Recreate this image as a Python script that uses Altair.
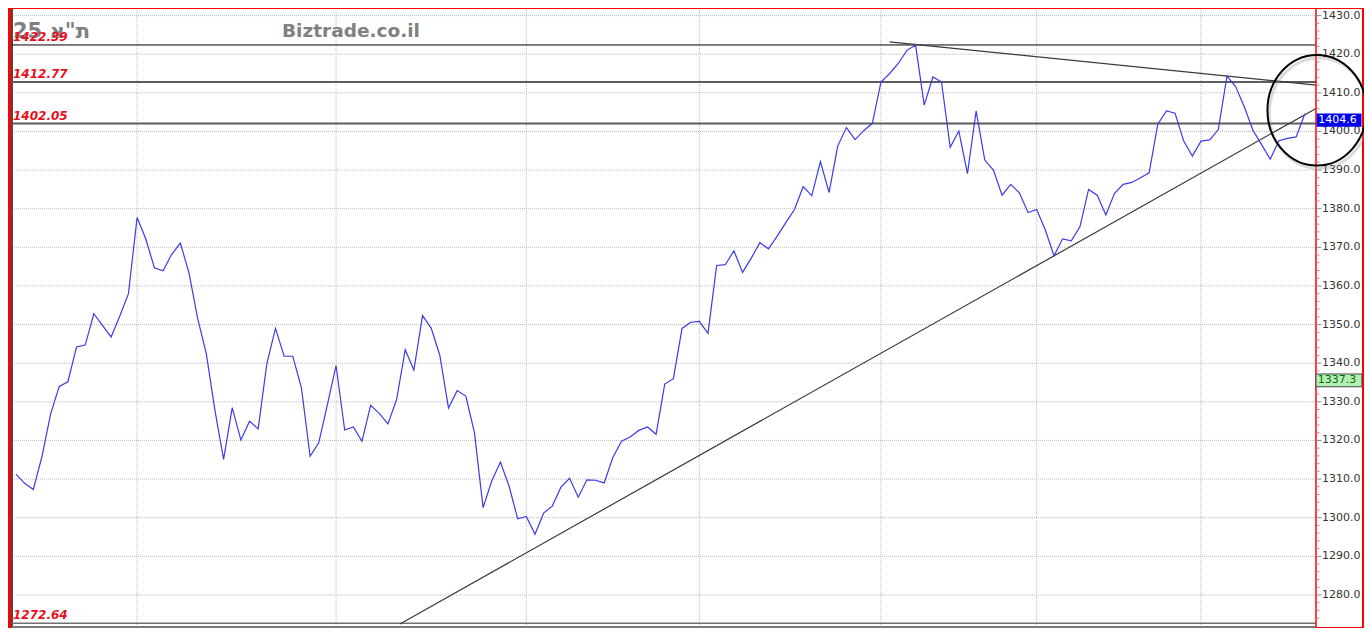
import altair as alt
import pandas as pd

# ---------------- data ----------------
prices = [
    1311.3, 1308.9, 1307.3, 1315.8, 1326.8, 1334.0, 1335.2, 1344.2, 1344.7, 1352.8,
    1349.8, 1346.8, 1352.2, 1358.0, 1377.7, 1372.2, 1364.7, 1363.9, 1368.2, 1371.1,
    1363.4, 1351.6, 1342.5, 1327.8, 1315.1, 1328.5, 1320.1, 1325.0, 1323.0, 1339.9,
    1349.0, 1341.8, 1341.8, 1333.6, 1315.9, 1319.4, 1329.3, 1339.4, 1322.7, 1323.5,
    1319.8, 1329.1, 1327.0, 1324.3, 1330.6, 1343.5, 1338.2, 1352.3, 1349.1, 1342.0,
    1328.4, 1332.9, 1331.5, 1322.0, 1302.6, 1309.5, 1314.4, 1308.2, 1299.7, 1300.3,
    1295.7, 1301.2, 1303.0, 1307.9, 1310.2, 1305.3, 1309.8, 1309.7, 1309.0, 1315.6,
    1319.8, 1320.9, 1322.6, 1323.5, 1321.6, 1334.6, 1336.0, 1349.0, 1350.6, 1350.8,
    1347.7, 1365.3, 1365.5, 1369.1, 1363.5, 1367.2, 1371.2, 1369.6, 1372.9, 1376.4,
    1379.8, 1385.7, 1383.4, 1392.2, 1384.2, 1396.2, 1401.0, 1397.9, 1400.2, 1402.1,
    1412.8, 1415.0, 1417.6, 1421.0, 1422.3, 1406.8, 1414.1, 1412.8, 1395.9, 1400.1,
    1389.1, 1405.3, 1392.6, 1390.0, 1383.5, 1386.3, 1384.1, 1379.0, 1379.8, 1374.5,
    1367.8, 1372.2, 1371.7, 1375.3, 1385.0, 1383.5, 1378.4, 1384.0, 1386.3, 1386.8,
    1388.0, 1389.3, 1401.9, 1405.3, 1404.7, 1397.5, 1393.6, 1397.5, 1397.8, 1400.5,
    1414.3, 1411.6, 1406.4, 1400.3, 1396.6, 1392.8, 1397.6, 1398.2, 1398.6, 1404.6,
]
day_index = list(range(len(prices)))

month_starts = [14, 37, 59, 79, 100, 118, 137]
y_ticks = list(range(1280, 1431, 10))
y_tick_labels = [f"{v:.1f}" for v in y_ticks]
y_minor_ticks = [v for v in range(1274, 1431, 2) if v % 10 != 0]

level_values = [1422.39, 1412.77, 1402.05, 1272.64]
level_texts = ["1422.39", "1412.77", "1402.05", "1272.64"]
level_colors = ["#000000", "#5c5c5c", "#5c5c5c", "#707070"]
level_widths = [1.0, 2.0, 2.0, 1.5]

upper_trend_t = [101.0, 150.29]
upper_trend_v = [1423.2, 1412.0]
lower_trend_t = [44.39, 150.29]
lower_trend_v = [1272.5, 1405.96]

last_price = [1404.6]
last_box = [1404.67, 1401.2]
green_price = [1337.3]
green_box = [1337.2, 1333.9]

circle_center_t = [150.4]
circle_center_v = [1405.5]

# ---------------- scales ----------------
X_MIN, X_MAX = -0.462, 155.61
Y_MIN, Y_MAX = 1271.7, 1431.7
AXIS_T = 150.29
TICK_T = AXIS_T + 0.62
MINOR_T = AXIS_T + 0.4
BOX_T2 = 155.6

xs = alt.Scale(domain=[X_MIN, X_MAX], nice=False, zero=False)
ys = alt.Scale(domain=[Y_MIN, Y_MAX], nice=False, zero=False)


def X(f="t"):
    return alt.X(f + ":Q", scale=xs, axis=None)


def Y(f="v"):
    return alt.Y(f + ":Q", scale=ys, axis=None)


# ---------------- grid ----------------
hgrid = alt.Chart(pd.DataFrame({"v": y_ticks, "t": X_MIN, "t2": AXIS_T})).mark_rule(
    color="#bcbcbc", strokeDash=[1, 1], strokeWidth=1
).encode(x=X(), x2="t2:Q", y=Y())

vgrid = alt.Chart(pd.DataFrame({"t": month_starts, "v": Y_MIN, "v2": Y_MAX})).mark_rule(
    color="#bcbcbc", strokeDash=[1, 1], strokeWidth=1
).encode(x=X(), y=Y(), y2="v2:Q")

# frame left / bottom
frame_left = alt.Chart(pd.DataFrame({"t": [X_MIN], "v": [Y_MIN], "v2": [Y_MAX]})).mark_rule(
    color="#4a4a4a", strokeWidth=2
).encode(x=X(), y=Y(), y2="v2:Q")
frame_bottom = alt.Chart(pd.DataFrame({"t": [X_MIN], "t2": [AXIS_T], "v": [Y_MIN]})).mark_rule(
    color="#7a7a7a", strokeWidth=2
).encode(x=X(), x2="t2:Q", y=Y())

# ---------------- right price axis (drawn by hand) ----------------
axis_line = alt.Chart(pd.DataFrame({"t": [AXIS_T], "v": [Y_MIN], "v2": [Y_MAX]})).mark_rule(
    color="#ff0000", strokeWidth=1.5
).encode(x=X(), y=Y(), y2="v2:Q")
major_ticks = alt.Chart(pd.DataFrame({"v": y_ticks, "t": AXIS_T, "t2": TICK_T})).mark_rule(
    color="#8a8a8a", strokeWidth=1
).encode(x=X(), x2="t2:Q", y=Y())
minor_ticks = alt.Chart(pd.DataFrame({"v": y_minor_ticks, "t": AXIS_T, "t2": MINOR_T})).mark_rule(
    color="#e07070", strokeWidth=1
).encode(x=X(), x2="t2:Q", y=Y())
axis_labels = alt.Chart(pd.DataFrame({"v": y_ticks, "s": y_tick_labels, "t": AXIS_T})).mark_text(
    align="left", baseline="middle", dx=6, font="DejaVu Sans", fontSize=11, color="#333333"
).encode(x=X(), y=Y(), text="s:N")

# ---------------- horizontal levels ----------------
lv = pd.DataFrame({
    "v": level_values, "label": level_texts, "c": level_colors, "w": level_widths,
    "t": X_MIN, "t2": AXIS_T,
})
levels = alt.Chart(lv).mark_rule().encode(
    x=X(), x2="t2:Q", y=Y(),
    color=alt.Color("c:N", scale=None),
    strokeWidth=alt.StrokeWidth("w:Q", scale=None),
)

# ---------------- watermark / title ----------------
title_he = alt.Chart(pd.DataFrame({"s": ['25 ת"א']})).mark_text(
    align="left", baseline="alphabetic", font="DejaVu Sans", fontWeight="bold",
    fontSize=21, color="#808080"
).encode(x=alt.value(1), y=alt.value(29), text="s:N")
title_site = alt.Chart(pd.DataFrame({"s": ["Biztrade.co.il"]})).mark_text(
    align="left", baseline="alphabetic", font="DejaVu Sans", fontWeight="bold",
    fontSize=18.5, color="#808080"
).encode(x=alt.value(270), y=alt.value(28), text="s:N")

level_labels = alt.Chart(lv).mark_text(
    align="left", baseline="alphabetic", dy=-4, font="DejaVu Sans", fontStyle="italic",
    fontWeight="bold", fontSize=12, color="#e8101c"
).encode(x=alt.value(1), y=Y(), text="label:N")

# ---------------- trend lines ----------------
trend_df = pd.DataFrame({
    "t": upper_trend_t + lower_trend_t,
    "v": upper_trend_v + lower_trend_v,
    "g": ["up", "up", "low", "low"],
})
trends = alt.Chart(trend_df).mark_line(color="#3a3a3a", strokeWidth=1.2).encode(
    x=X(), y=Y(), detail="g:N"
)

# ---------------- price line ----------------
price_df = pd.DataFrame({"t": day_index, "v": prices})
price_line = alt.Chart(price_df).mark_line(color="#3c3ce6", strokeWidth=1.2).encode(
    x=X(), y=Y()
)

# ---------------- circle ----------------
ellipse_path = "M 0.895 0 A 0.895 1 0 1 1 -0.895 0 A 0.895 1 0 1 1 0.895 0 Z"
circ_df = pd.DataFrame({"t": circle_center_t, "v": circle_center_v})
circle_shadow = alt.Chart(circ_df).mark_point(
    shape=ellipse_path, size=12232, filled=False, stroke="#999999", strokeWidth=3,
    opacity=0.35, xOffset=2, yOffset=3
).encode(x=X(), y=Y())
circle = alt.Chart(circ_df).mark_point(
    shape=ellipse_path, size=12232, filled=False, stroke="#000000", strokeWidth=2,
    opacity=1
).encode(x=X(), y=Y())

# ---------------- price boxes ----------------
blue_box = alt.Chart(pd.DataFrame({"t": [AXIS_T + 0.08], "t2": [BOX_T2 - 0.05],
                                   "v": [last_box[0]], "v2": [last_box[1]]})).mark_rect(
    color="#0000ee"
).encode(x=X(), x2="t2:Q", y=Y(), y2="v2:Q")
blue_text = alt.Chart(pd.DataFrame({"t": [AXIS_T + 0.25], "v": [(last_box[0] + last_box[1]) / 2],
                                    "s": [f"{last_price[0]:.1f}"]})).mark_text(
    align="left", baseline="middle", font="DejaVu Sans", fontSize=11, color="#ffffff"
).encode(x=X(), y=Y(), text="s:N")

gbox = alt.Chart(pd.DataFrame({"t": [AXIS_T], "t2": [BOX_T2],
                               "v": [green_box[0]], "v2": [green_box[1]]})).mark_rect(
    fill="#b4f0b4", stroke="#444444", strokeWidth=1
).encode(x=X(), x2="t2:Q", y=Y(), y2="v2:Q")
gtext = alt.Chart(pd.DataFrame({"t": [AXIS_T + 0.2], "v": [(green_box[0] + green_box[1]) / 2],
                                "s": [f"{green_price[0]:.1f}"]})).mark_text(
    align="left", baseline="middle", font="DejaVu Sans", fontSize=11, color="#0a6a0a"
).encode(x=X(), y=Y(), text="s:N")

chart = alt.layer(
    hgrid, vgrid, frame_left, frame_bottom, levels, title_he, title_site, level_labels,
    trends, price_line, axis_line, major_ticks, minor_ticks, axis_labels,
    circle_shadow, circle, blue_box, blue_text, gbox, gtext,
).properties(
    width=1350, height=618,
    padding={"left": 4, "top": 1, "right": 2, "bottom": 1},
    autosize=alt.AutoSizeParams(type="none"),
    background="#ff0000",
).configure_view(fill="#ffffff", stroke=None)

chart.save("out.html", embed_options={"renderer": "svg", "actions": False})
